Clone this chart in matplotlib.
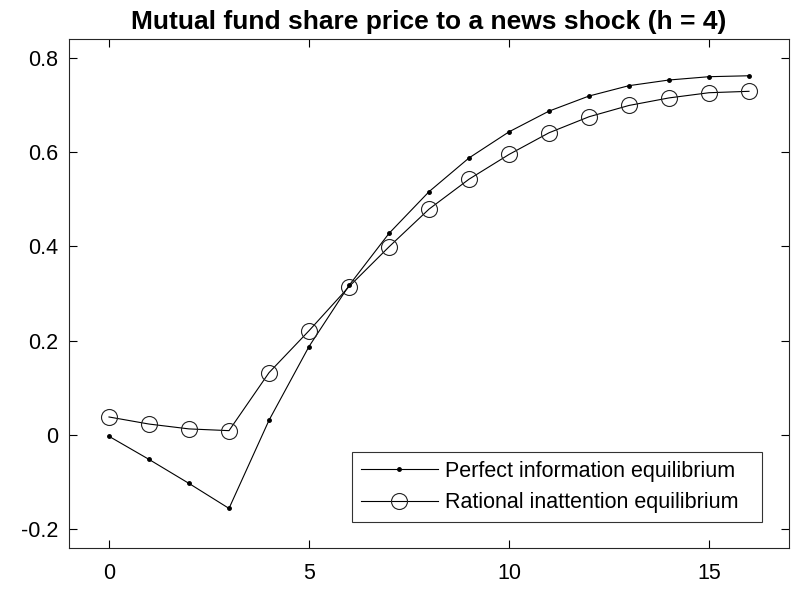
import matplotlib
matplotlib.use("Agg")
import matplotlib.pyplot as plt

plt.rcParams['font.family'] = ['Liberation Sans', 'DejaVu Sans']

periods = list(range(17))
perfect_info = [-0.003, -0.052, -0.103, -0.156, 0.031, 0.1875, 0.317, 0.4275, 0.516,
                0.5876, 0.643, 0.687, 0.719, 0.741, 0.753, 0.760, 0.762]
rational_inatt = [0.038, 0.023, 0.0127, 0.009, 0.132, 0.221, 0.3145, 0.399, 0.479,
                  0.5425, 0.595, 0.641, 0.675, 0.699, 0.715, 0.726, 0.729]
xticks = [0, 5, 10, 15]
yticks = [-0.2, 0, 0.2, 0.4, 0.6, 0.8]
ytick_labels = ['-0.2', '0', '0.2', '0.4', '0.6', '0.8']

fig = plt.figure(figsize=(7.92, 5.91), dpi=100)
ax = fig.add_axes([69/792, 43/591, 720/792, 509/591])

ax.plot(periods, perfect_info, '-', color='black', lw=0.8, marker='.', markersize=5,
        label='Perfect information equilibrium')
ax.plot(periods, rational_inatt, '-', color='black', lw=0.8, marker='o', markersize=11.5,
        markerfacecolor='none', markeredgewidth=0.8, markeredgecolor='#222222',
        label='Rational inattention equilibrium')

ax.set_xlim(-1, 17)
ax.set_ylim(-0.24, 0.84)
ax.set_xticks(xticks)
ax.set_yticks(yticks)
ax.set_yticklabels(ytick_labels)
ax.tick_params(direction='in', top=True, right=True, length=6, width=0.8,
               labelsize=15.5, colors='black', pad=8)
ax.tick_params(axis='x', pad=11)
for s in ax.spines.values():
    s.set_linewidth(0.8)
    s.set_color('#262626')

ax.set_title('Mutual fund share price to a news shock (h = 4)', fontsize=19,
             fontweight='bold', pad=7.5)

leg = ax.legend(loc='lower left',
                bbox_to_anchor=(352/792, (591-522)/591, 410/792, 71/591),
                bbox_transform=fig.transFigure, mode='expand',
                fontsize=15.5, frameon=True,
                fancybox=False, edgecolor='black', borderpad=0.4,
                handlelength=3.6, handletextpad=0.33, labelspacing=0.5,
                borderaxespad=0)
leg.get_frame().set_linewidth(0.8)

fig.savefig('out.png', dpi=100)
